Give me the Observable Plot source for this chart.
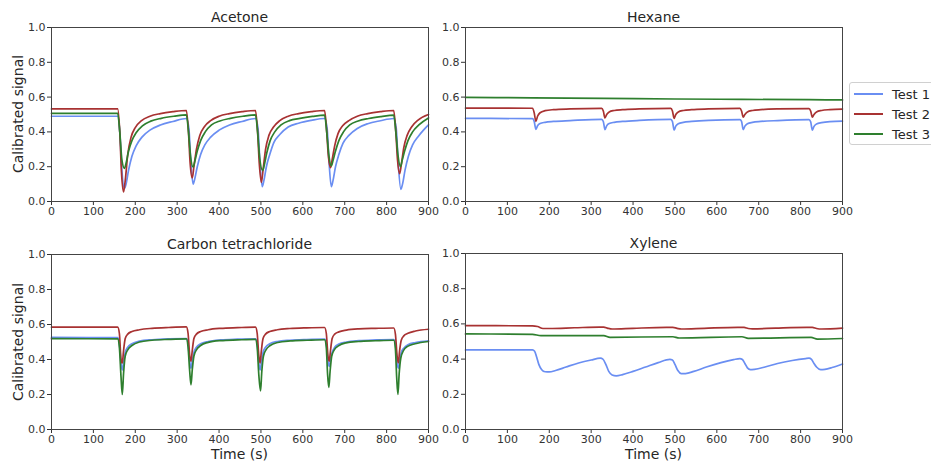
<!DOCTYPE html>
<html>
<head>
<meta charset="utf-8">
<script src="https://cdn.jsdelivr.net/npm/d3@7"></script>
<script src="https://cdn.jsdelivr.net/npm/@observablehq/plot@0.6"></script>
<style>
  html, body { margin: 0; padding: 0; background: #fff; overflow: hidden; }
  #root { position: relative; width: 931px; height: 463px; overflow: hidden; font-family: "DejaVu Sans", sans-serif; color: #262626; }
  .panel { position: absolute; }
  .lbl { position: absolute; transform: translate(-50%, -50%); white-space: nowrap; }
  .ylbl { position: absolute; transform: translate(-50%, -50%) rotate(-90deg); white-space: nowrap; font-size: 14px; }
  .legend { position: absolute; left: 849px; top: 82px; width: 120px; height: 61px; border: 1px solid #d0d0d0; border-radius: 3px; background: #fff; }
  .legend .sw { position: absolute; left: 4px; width: 29px; height: 2px; }
  .legend .tx { position: absolute; left: 42px; font-size: 13px; transform: translateY(-50%); white-space: nowrap; }
</style>
</head>
<body>
<div id="root"></div>
<script>
// ---------------- data ----------------
const panelTitles = ["Acetone", "Hexane", "Carbon tetrachloride", "Xylene"];
const seriesNames = ["Test 1", "Test 2", "Test 3"];
const timeTicks = [0, 100, 200, 300, 400, 500, 600, 700, 800, 900];
const signalTicks = [0, 0.2, 0.4, 0.6, 0.8, 1.0];
const xLabel = "Time (s)";
const yLabel = "Calibrated signal";

// [time (s), calibrated signal]
const acetoneTest1 = [
  [0,0.49],[158,0.49],[163,0.40],[168,0.18],[174,0.075],[178,0.10],[184,0.18],[192,0.26],[202,0.32],[216,0.37],[235,0.41],[260,0.44],[290,0.46],[322,0.477],
  [328,0.42],[332,0.25],[338,0.10],[342,0.13],[348,0.2],[356,0.27],[366,0.325],[380,0.37],[400,0.41],[425,0.44],[455,0.46],[487,0.477],
  [493,0.42],[497,0.25],[503,0.085],[507,0.12],[513,0.2],[521,0.27],[531,0.34],[545,0.385],[565,0.428],[590,0.45],[620,0.466],[652,0.477],
  [658,0.42],[662,0.25],[668,0.085],[672,0.12],[678,0.2],[686,0.27],[696,0.335],[710,0.38],[730,0.42],[755,0.447],[785,0.464],[817,0.477],
  [823,0.42],[827,0.25],[834,0.07],[838,0.10],[844,0.18],[852,0.26],[862,0.325],[876,0.375],[888,0.41],[900,0.44]
];
const acetoneTest2 = [
  [0,0.532],[158,0.532],[163,0.40],[167,0.17],[172,0.055],[176,0.12],[182,0.27],[190,0.37],[200,0.425],[215,0.465],[235,0.49],[260,0.505],[290,0.516],[322,0.523],
  [327,0.40],[331,0.22],[336,0.135],[340,0.2],[346,0.3],[354,0.38],[365,0.43],[380,0.465],[400,0.49],[425,0.505],[455,0.516],[487,0.523],
  [492,0.40],[496,0.22],[501,0.11],[505,0.18],[511,0.3],[519,0.38],[530,0.428],[545,0.465],[565,0.49],[590,0.505],[620,0.516],[652,0.523],
  [657,0.40],[661,0.26],[666,0.195],[670,0.24],[676,0.32],[684,0.39],[695,0.435],[710,0.465],[730,0.49],[755,0.505],[785,0.516],[817,0.523],
  [822,0.40],[826,0.24],[831,0.16],[835,0.21],[841,0.31],[849,0.38],[860,0.43],[875,0.468],[900,0.50]
];
const acetoneTest3 = [
  [0,0.507],[158,0.507],[163,0.40],[168,0.24],[174,0.19],[178,0.22],[184,0.29],[192,0.35],[202,0.395],[217,0.435],[237,0.462],[262,0.478],[292,0.49],[322,0.498],
  [327,0.40],[332,0.26],[338,0.197],[342,0.23],[348,0.29],[356,0.35],[367,0.40],[382,0.44],[402,0.463],[427,0.478],[457,0.49],[487,0.498],
  [492,0.40],[497,0.25],[504,0.178],[508,0.21],[514,0.28],[522,0.35],[533,0.40],[548,0.44],[568,0.465],[593,0.478],[623,0.489],[652,0.496],
  [657,0.40],[662,0.27],[668,0.205],[672,0.235],[678,0.29],[686,0.35],[697,0.40],[712,0.44],[732,0.463],[757,0.477],[787,0.488],[817,0.496],
  [822,0.40],[827,0.27],[833,0.20],[837,0.235],[843,0.29],[851,0.35],[862,0.40],[877,0.44],[900,0.48]
];

const hexaneTest1 = [
  [0,0.478],[160,0.476],[164,0.46],[168,0.415],[172,0.435],[178,0.448],[190,0.455],[210,0.46],[250,0.465],[325,0.472],
  [329,0.46],[333,0.413],[337,0.435],[343,0.448],[355,0.455],[375,0.46],[415,0.466],[490,0.472],
  [494,0.46],[498,0.41],[502,0.433],[508,0.447],[520,0.455],[540,0.46],[580,0.466],[655,0.47],
  [659,0.46],[663,0.413],[667,0.433],[673,0.447],[685,0.455],[705,0.46],[745,0.465],[820,0.47],
  [824,0.458],[828,0.41],[832,0.432],[838,0.446],[850,0.453],[870,0.459],[900,0.462]
];
const hexaneTest2 = [
  [0,0.537],[160,0.536],[164,0.51],[168,0.46],[172,0.49],[178,0.51],[190,0.522],[210,0.528],[250,0.532],[325,0.535],
  [329,0.52],[333,0.48],[337,0.50],[343,0.515],[355,0.523],[375,0.528],[415,0.532],[490,0.535],
  [494,0.52],[498,0.478],[502,0.50],[508,0.515],[520,0.523],[540,0.528],[580,0.532],[655,0.535],
  [659,0.52],[663,0.485],[667,0.50],[673,0.515],[685,0.523],[705,0.528],[745,0.532],[820,0.534],
  [824,0.52],[828,0.485],[832,0.50],[838,0.515],[850,0.523],[870,0.528],[900,0.531]
];
const hexaneTest3 = [
  [0,0.598],[160,0.596],[330,0.593],[500,0.589],[660,0.587],[820,0.585],[900,0.584]
];

const ccl4Test1 = [
  [0,0.526],[158,0.525],[162,0.49],[166,0.38],[169,0.34],[172,0.38],[176,0.44],[182,0.47],[192,0.49],[210,0.505],[240,0.513],[280,0.518],[322,0.52],
  [326,0.49],[330,0.39],[333,0.35],[336,0.39],[340,0.44],[346,0.47],[356,0.49],[374,0.503],[404,0.512],[444,0.516],[487,0.518],
  [491,0.49],[495,0.38],[498,0.34],[501,0.38],[505,0.44],[511,0.47],[521,0.49],[539,0.503],[569,0.51],[609,0.514],[652,0.516],
  [656,0.49],[660,0.39],[663,0.36],[666,0.40],[670,0.44],[676,0.47],[686,0.488],[704,0.5],[734,0.508],[774,0.512],[817,0.514],
  [821,0.49],[825,0.38],[828,0.35],[831,0.39],[835,0.44],[841,0.465],[851,0.485],[869,0.497],[900,0.507]
];
const ccl4Test2 = [
  [0,0.585],[158,0.585],[162,0.55],[166,0.40],[169,0.38],[172,0.45],[176,0.52],[182,0.545],[192,0.56],[210,0.57],[240,0.578],[280,0.583],[322,0.586],
  [326,0.55],[330,0.42],[333,0.39],[336,0.45],[340,0.52],[346,0.545],[356,0.56],[374,0.57],[404,0.578],[444,0.582],[487,0.585],
  [491,0.55],[495,0.42],[498,0.38],[501,0.45],[505,0.52],[511,0.545],[521,0.56],[539,0.57],[569,0.577],[609,0.581],[652,0.583],
  [656,0.55],[660,0.42],[663,0.39],[666,0.45],[670,0.52],[676,0.545],[686,0.558],[704,0.568],[734,0.575],[774,0.578],[817,0.58],
  [821,0.545],[825,0.42],[828,0.38],[831,0.45],[835,0.51],[841,0.535],[851,0.55],[869,0.563],[900,0.573]
];
const ccl4Test3 = [
  [0,0.519],[158,0.518],[162,0.47],[166,0.30],[169,0.20],[172,0.32],[176,0.42],[182,0.455],[192,0.48],[210,0.5],[240,0.51],[280,0.515],[322,0.518],
  [326,0.47],[330,0.33],[333,0.255],[336,0.34],[340,0.42],[346,0.455],[356,0.48],[374,0.498],[404,0.508],[444,0.512],[487,0.515],
  [491,0.47],[495,0.31],[499,0.22],[502,0.33],[506,0.42],[512,0.455],[522,0.48],[540,0.497],[570,0.506],[610,0.51],[652,0.513],
  [656,0.47],[659,0.32],[662,0.24],[665,0.33],[669,0.42],[675,0.455],[685,0.478],[703,0.495],[733,0.503],[773,0.507],[817,0.51],
  [821,0.46],[824,0.30],[827,0.20],[830,0.32],[834,0.41],[840,0.45],[850,0.475],[868,0.49],[900,0.503]
];

const xyleneTest1 = [
  [0,0.452],[160,0.452],[165,0.445],[170,0.41],[175,0.37],[182,0.34],[190,0.328],[200,0.327],[215,0.335],[240,0.355],[270,0.378],[300,0.395],[322,0.405],
  [328,0.40],[335,0.37],[342,0.33],[350,0.31],[360,0.305],[375,0.312],[400,0.33],[430,0.355],[460,0.38],[488,0.398],
  [494,0.395],[500,0.37],[507,0.335],[515,0.318],[525,0.318],[545,0.33],[575,0.355],[610,0.38],[640,0.397],[655,0.403],
  [661,0.398],[667,0.375],[673,0.35],[680,0.34],[690,0.342],[715,0.355],[745,0.375],[780,0.392],[812,0.403],[820,0.405],
  [826,0.398],[832,0.375],[838,0.355],[848,0.34],[858,0.342],[875,0.352],[900,0.372]
];
const xyleneTest2 = [
  [0,0.59],[160,0.589],[172,0.585],[185,0.574],[200,0.574],[260,0.578],[320,0.582],[330,0.582],[340,0.575],[350,0.571],[400,0.575],[480,0.58],
  [495,0.58],[505,0.575],[515,0.571],[570,0.575],[650,0.58],[665,0.58],[675,0.574],[685,0.572],[740,0.576],[815,0.58],[828,0.58],[838,0.574],[850,0.571],[900,0.576]
];
const xyleneTest3 = [
  [0,0.543],[160,0.541],[180,0.533],[330,0.533],[345,0.524],[495,0.527],[510,0.52],[660,0.527],[675,0.518],[825,0.523],[840,0.514],[900,0.517]
];

// ---------------- style ----------------
const colors = ["#6a8ef2", "#a83232", "#2e7f2e"];

const panels = [
  {title: panelTitles[0], series: [acetoneTest1, acetoneTest2, acetoneTest3], left: 0,   top: 0,   w: 440, h: 230, mt: 27, mb: 29},
  {title: panelTitles[1], series: [hexaneTest1, hexaneTest2, hexaneTest3],    left: 414, top: 0,   w: 433, h: 230, mt: 27, mb: 29},
  {title: panelTitles[2], series: [ccl4Test1, ccl4Test2, ccl4Test3],          left: 0,   top: 227, w: 440, h: 236, mt: 27, mb: 34},
  {title: panelTitles[3], series: [xyleneTest1, xyleneTest2, xyleneTest3],    left: 414, top: 227, w: 433, h: 236, mt: 26, mb: 34}
];

const root = document.getElementById("root");

panels.forEach((p, idx) => {
  const chart = Plot.plot({
    width: p.w,
    height: p.h,
    marginLeft: 51,
    marginRight: p.w - 51 - 377,
    marginTop: p.mt,
    marginBottom: p.mb,
    style: {fontFamily: "DejaVu Sans, sans-serif", fontSize: "11px", color: "#333", background: "transparent", overflow: "visible"},
    x: {domain: [0, 900], ticks: timeTicks, tickFormat: d => String(d), label: null, tickSize: 4, tickPadding: 2},
    y: {domain: [0, 1], ticks: signalTicks, tickFormat: d3.format(".1f"), label: null, tickSize: 4, tickPadding: 2},
    marks: [
      ...p.series.map((s, i) => Plot.line(s, {x: d => d[0], y: d => d[1], stroke: colors[i], strokeWidth: 1.7, curve: "monotone-x"})),
      Plot.frame({stroke: "#444", strokeWidth: 1})
    ]
  });
  chart.classList.add("panel");
  chart.style.left = p.left + "px";
  chart.style.top = p.top + "px";
  root.appendChild(chart);

  const cx = p.left + 51 + 377 / 2;
  const t = document.createElement("div");
  t.className = "lbl";
  t.textContent = p.title;
  t.style.left = cx + "px";
  t.style.top = (p.top + p.mt - 10) + "px";
  t.style.fontSize = "14px";
  root.appendChild(t);

  if (idx % 2 === 0) {
    const yl = document.createElement("div");
    yl.className = "ylbl";
    yl.textContent = yLabel;
    yl.style.left = "18px";
    yl.style.top = (p.top + p.mt + (p.h - p.mt - p.mb) / 2) + "px";
    root.appendChild(yl);
  }
  if (idx >= 2) {
    const xl = document.createElement("div");
    xl.className = "lbl";
    xl.textContent = xLabel;
    xl.style.left = cx + "px";
    xl.style.top = "454px";
    xl.style.fontSize = "14px";
    root.appendChild(xl);
  }
});

// legend
const legend = document.createElement("div");
legend.className = "legend";
seriesNames.forEach((name, i) => {
  const y = 11 + i * 20;
  const sw = document.createElement("div");
  sw.className = "sw";
  sw.style.top = (y - 1) + "px";
  sw.style.background = colors[i];
  legend.appendChild(sw);
  const tx = document.createElement("div");
  tx.className = "tx";
  tx.style.top = y + "px";
  tx.textContent = name;
  legend.appendChild(tx);
});
root.appendChild(legend);
</script>
</body>
</html>
